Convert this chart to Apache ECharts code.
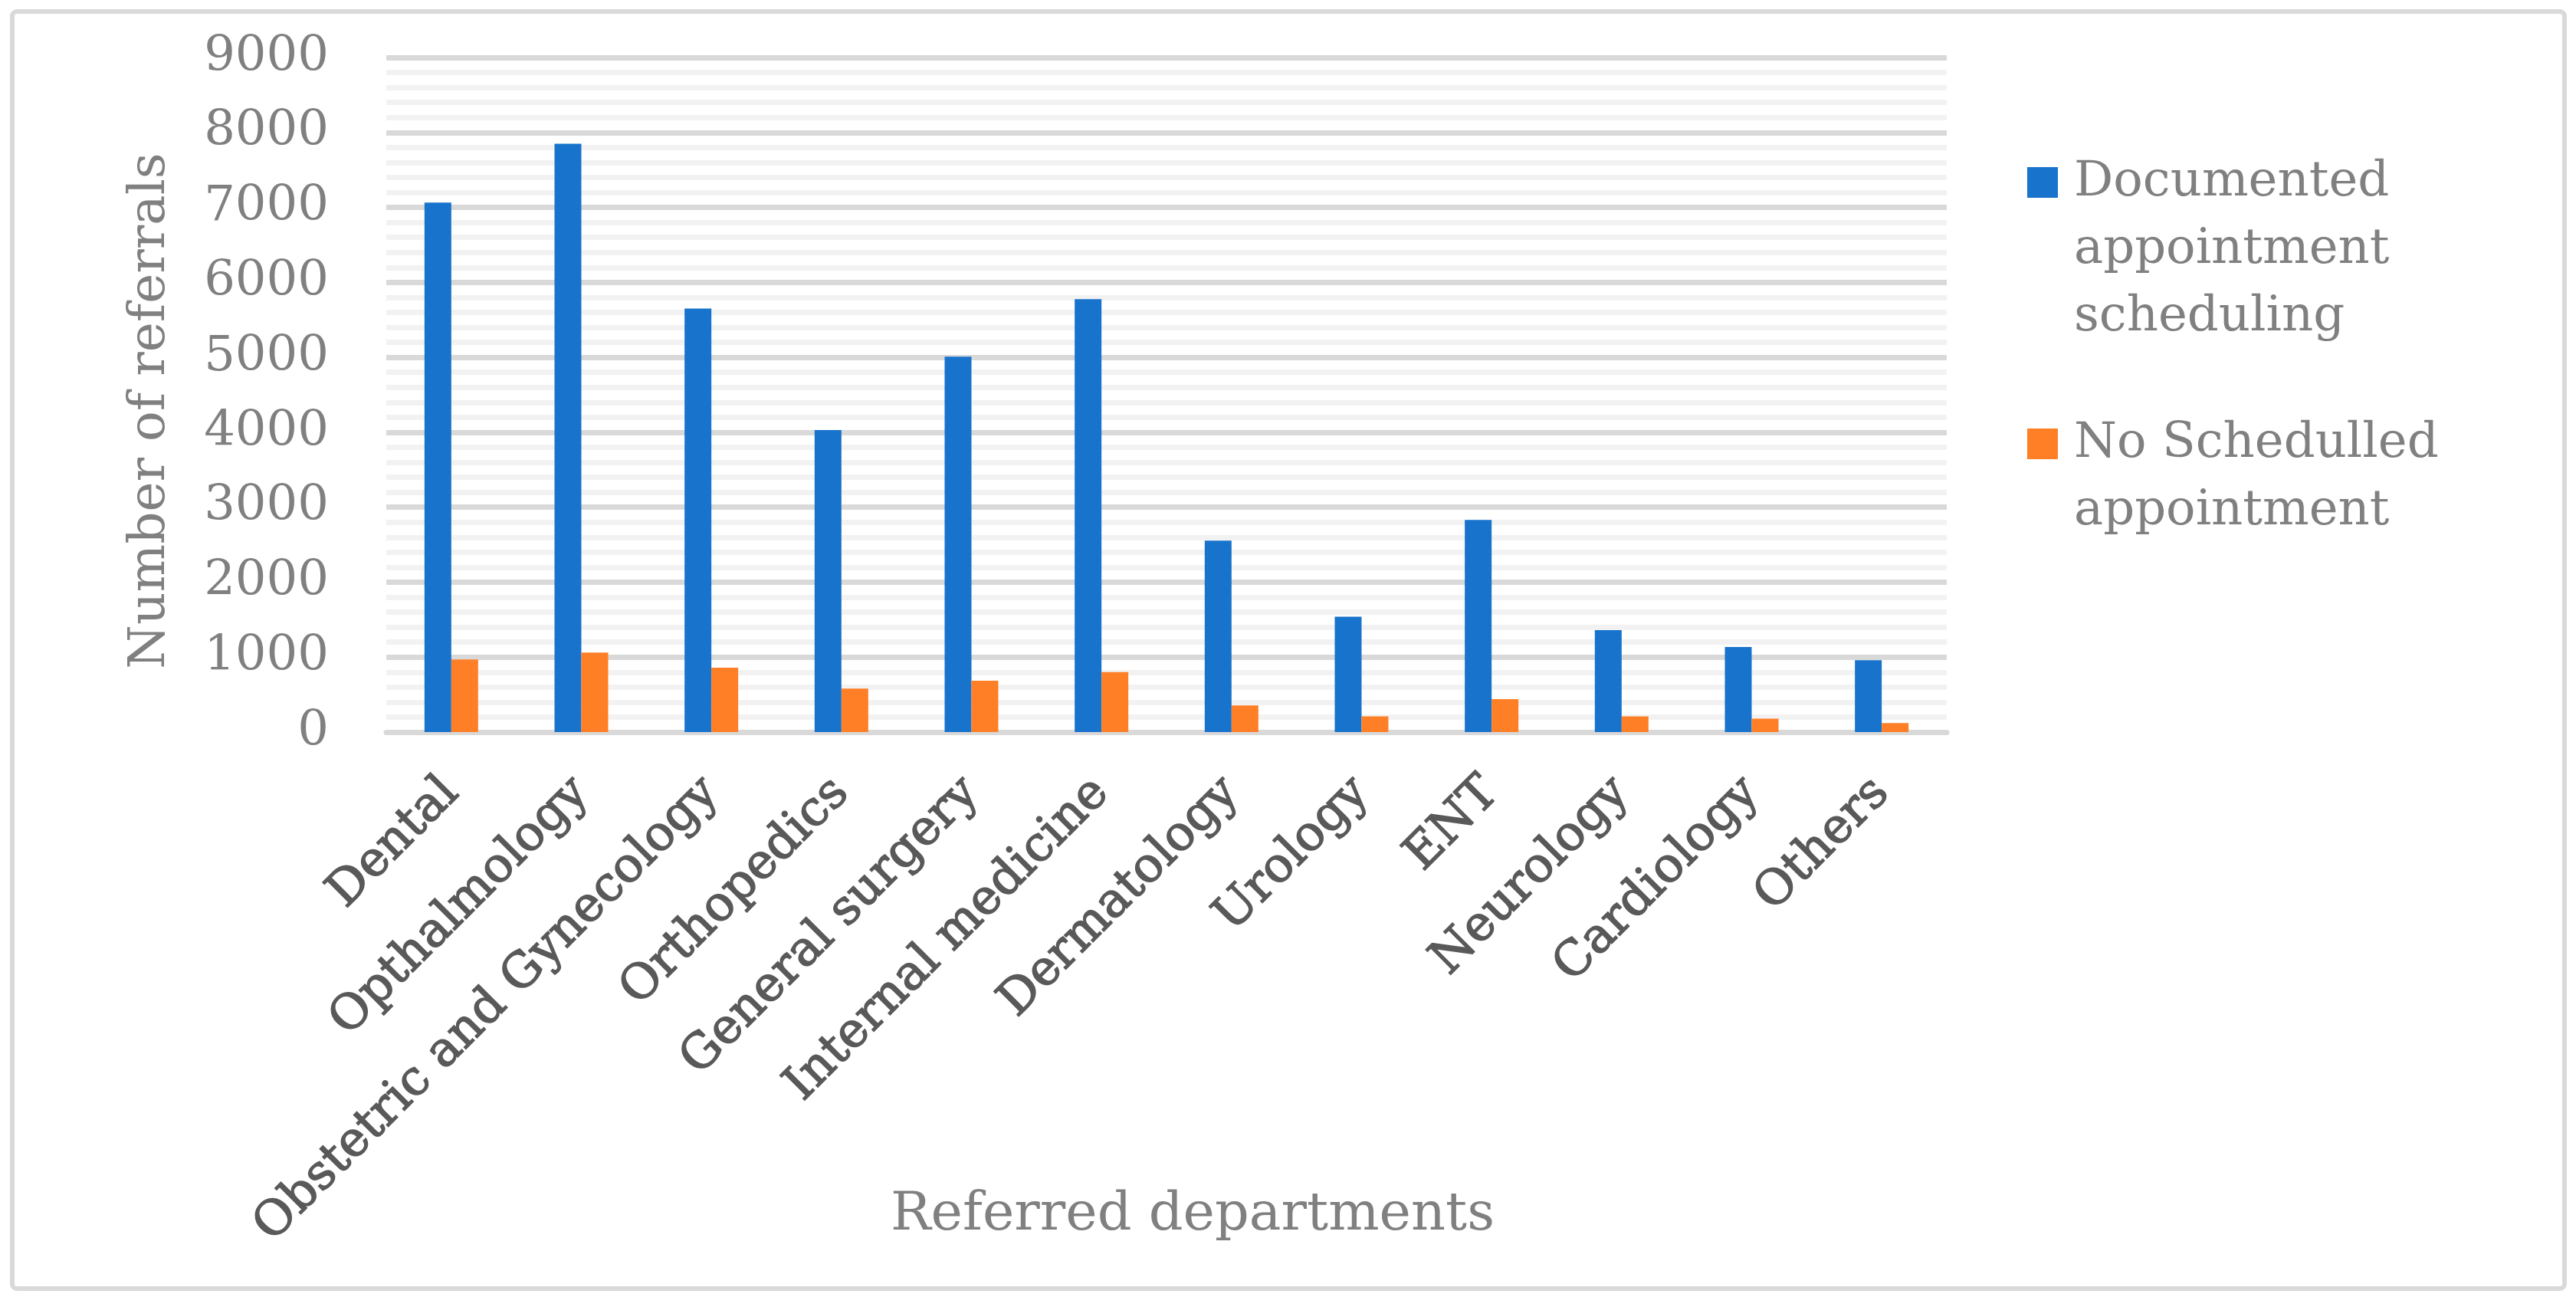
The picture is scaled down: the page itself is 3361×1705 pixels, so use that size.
<!DOCTYPE html>
<html>
<head>
<meta charset="utf-8">
<title>Referrals by department</title>
<script src="https://cdn.jsdelivr.net/npm/echarts@6/dist/echarts.min.js"></script>
<style>
	html, body {
		margin: 0;
		padding: 0;
		background: #ffffff;
	}
	#chart {
		width: 3361px;
		height: 1705px;
	}
</style>
</head>
<body>
<div id="chart"></div>
<script>
// departments on the x axis
var departments = ['Dental', 'Opthalmology', 'Obstetric and Gynecology', 'Orthopedics', 'General surgery',
	'Internal medicine', 'Dermatology', 'Urology', 'ENT', 'Neurology', 'Cardiology', 'Others'];

// values
var documented = [7065, 7850, 5650, 4030, 5010, 5775, 2555, 1540, 2830, 1360, 1135, 960];
var notScheduled = [970, 1060, 860, 580, 685, 800, 355, 210, 440, 210, 180, 120];

var seriesNames = ['Documented\nappointment\nscheduling', 'No Schedulled\nappointment'];

var serif = 'DejaVu Serif';

// legend squares sit next to the first text line, not the middle one
// (path box is 40 x 264, same as itemWidth x itemHeight, so no stretching)
var iconFirstOf3 = 'path://M0,0L0,0M0,24L40,24L40,64L0,64ZM0,264L0,264';
var iconFirstOf2 = 'path://M0,0L0,0M0,68L40,68L40,108L0,108ZM0,264L0,264';

var ech = echarts.init(document.getElementById('chart'));
var option = {
	backgroundColor: '#ffffff',
	animation: false,
	graphic: [{
		// outer frame
		type: 'rect',
		left: 13,
		top: 12,
		shape: {
			width: 3330,
			height: 1666,
			r: 6
		},
		style: {
			fill: 'none',
			stroke: '#d9d9d9',
			lineWidth: 6
		}
	}],
	grid: {
		left: 504,
		right: 821,
		top: 75,
		bottom: 750
	},
	legend: {
		orient: 'vertical',
		left: 2640,
		top: 189,
		itemWidth: 40,
		itemHeight: 264,
		itemGap: 33,
		selectedMode: false,
		itemStyle: {
			borderWidth: 0
		},
		textStyle: {
			color: '#808080',
			fontFamily: serif,
			fontSize: 64,
			lineHeight: 88,
			padding: [0, 0, 0, 16]
		},
		data: [{
			name: seriesNames[0],
			icon: iconFirstOf3
		}, {
			name: seriesNames[1],
			icon: iconFirstOf2
		}]
	},
	xAxis: [{
		type: 'category',
		data: departments,
		name: 'Referred departments',
		nameLocation: 'middle',
		nameGap: 596,
		nameMoveOverlap: false,
		nameTextStyle: {
			color: '#808080',
			fontFamily: serif,
			fontSize: 70,
			padding: [0, 0, 0, 68]
		},
		axisLine: {
			lineStyle: {
				color: '#d9d9d9',
				width: 7
			}
		},
		axisTick: {
			show: false
		},
		axisLabel: {
			interval: 0,
			rotate: 45,
			margin: 70,
			color: '#595959',
			fontFamily: serif,
			fontSize: 63,
			textBorderColor: '#595959',
			textBorderWidth: 1.5
		}
	}],
	yAxis: [{
		type: 'value',
		min: 0,
		max: 9000,
		interval: 1000,
		name: 'Number of referrals',
		nameLocation: 'middle',
		nameGap: 274,
		nameMoveOverlap: false,
		nameTextStyle: {
			color: '#808080',
			fontFamily: serif,
			fontSize: 66,
			padding: [0, 42, 0, 0]
		},
		axisLine: {
			show: false
		},
		axisTick: {
			show: false
		},
		axisLabel: {
			color: '#808080',
			fontFamily: serif,
			fontSize: 64,
			margin: 75,
			formatter: function(v) {
				return String(v);
			}
		},
		splitLine: {
			lineStyle: {
				color: '#d9d9d9',
				width: 7
			}
		},
		minorTick: {
			show: false,
			splitNumber: 5
		},
		minorSplitLine: {
			show: true,
			lineStyle: {
				color: '#f2f2f2',
				width: 7
			}
		}
	}],
	series: [{
		name: seriesNames[0],
		type: 'bar',
		data: documented,
		barWidth: 35,
		barGap: '0%',
		itemStyle: {
			color: '#1873cc'
		}
	}, {
		name: seriesNames[1],
		type: 'bar',
		data: notScheduled,
		barWidth: 35,
		itemStyle: {
			color: '#ff7f27'
		}
	}]
};
ech.setOption(option);
</script>
</body>
</html>
